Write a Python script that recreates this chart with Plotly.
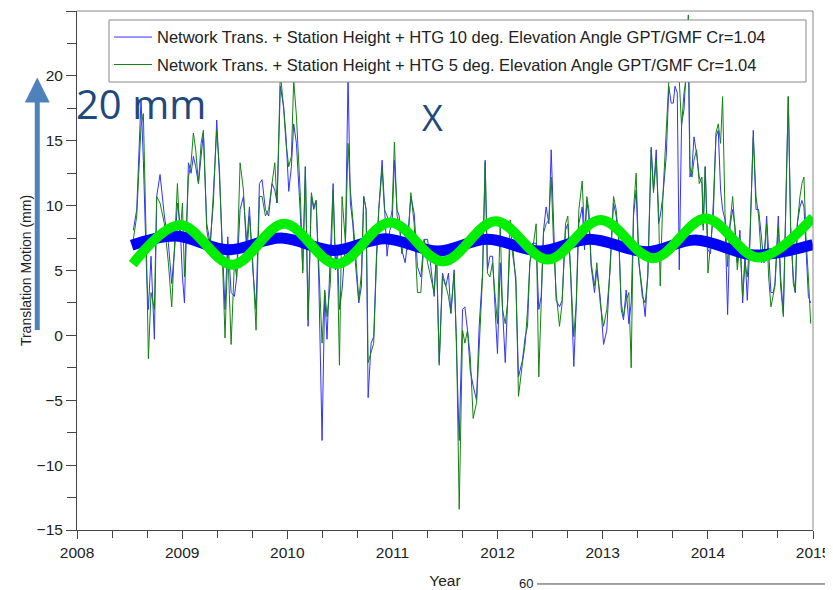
import plotly.graph_objects as go

# ---------------- data (decimal year, mm) ----------------
years = [
    2008.536, 2008.568, 2008.609, 2008.631, 2008.663, 2008.679, 2008.704, 2008.736, 2008.758, 2008.790,
    2008.831, 2008.869, 2008.901, 2008.933, 2008.955, 2008.980, 2009.003, 2009.022, 2009.060, 2009.085,
    2009.107, 2009.129, 2009.155, 2009.180, 2009.202, 2009.234, 2009.266, 2009.297, 2009.329, 2009.355,
    2009.383, 2009.408, 2009.434, 2009.466, 2009.497, 2009.519, 2009.551, 2009.583, 2009.615, 2009.640,
    2009.672, 2009.703, 2009.735,
    2009.760, 2009.792, 2009.823, 2009.855, 2009.881, 2009.903, 2009.934, 2009.966, 2009.988, 2010.014,
    2010.039, 2010.061, 2010.087, 2010.125, 2010.147, 2010.172, 2010.198, 2010.229, 2010.252, 2010.274,
    2010.299, 2010.331, 2010.356, 2010.378, 2010.410, 2010.436, 2010.458, 2010.477, 2010.496, 2010.521,
    2010.553, 2010.578, 2010.600, 2010.623, 2010.648, 2010.680, 2010.705, 2010.727, 2010.750, 2010.769,
    2010.797, 2010.822, 2010.848, 2010.870, 2010.902, 2010.924, 2010.949, 2010.975, 2010.997, 2011.019,
    2011.044,
    2011.064, 2011.089, 2011.121, 2011.143, 2011.175, 2011.207, 2011.238, 2011.270, 2011.302, 2011.334,
    2011.365, 2011.397, 2011.419, 2011.445, 2011.476, 2011.508, 2011.533, 2011.556, 2011.587, 2011.610,
    2011.635, 2011.667, 2011.689, 2011.714, 2011.740, 2011.768, 2011.800, 2011.825, 2011.857, 2011.882,
    2011.904, 2011.927, 2011.952, 2011.977, 2011.999, 2012.025, 2012.047, 2012.073, 2012.095, 2012.120,
    2012.142, 2012.174, 2012.199, 2012.237, 2012.263, 2012.285, 2012.307, 2012.333,
    2012.367, 2012.392, 2012.415, 2012.437, 2012.462, 2012.488, 2012.510, 2012.532, 2012.557, 2012.589,
    2012.614, 2012.646, 2012.668, 2012.694, 2012.725, 2012.748, 2012.773, 2012.805, 2012.827, 2012.849,
    2012.868, 2012.890, 2012.922, 2012.944, 2012.976, 2013.008, 2013.039, 2013.071, 2013.103, 2013.128,
    2013.154, 2013.176, 2013.198, 2013.223, 2013.249, 2013.271, 2013.293, 2013.318, 2013.344, 2013.376,
    2013.404, 2013.429, 2013.461, 2013.483, 2013.509, 2013.531, 2013.547, 2013.572, 2013.604, 2013.629,
    2013.651,
    2013.671, 2013.687, 2013.709, 2013.728, 2013.750, 2013.773, 2013.792, 2013.814, 2013.830, 2013.849,
    2013.868, 2013.893, 2013.918, 2013.944, 2013.956, 2013.975, 2014.001, 2014.026, 2014.052, 2014.077,
    2014.099, 2014.121, 2014.140, 2014.163, 2014.188, 2014.210, 2014.236, 2014.258, 2014.280, 2014.305,
    2014.331, 2014.353, 2014.375, 2014.400, 2014.432, 2014.458, 2014.483, 2014.511, 2014.534, 2014.559,
    2014.578, 2014.600, 2014.622, 2014.638, 2014.670, 2014.692, 2014.718, 2014.743, 2014.765, 2014.787,
    2014.813, 2014.832, 2014.851, 2014.876, 2014.895, 2014.914, 2014.933, 2014.956, 2014.978,
]

elev10_mm = [
    8.1, 9.7, 18.2, 13.5, 4.5, 2.0, 6.1, -0.3, 10.7, 12.4,
    9.2, 7.1, 4.0, 7.1, 10.2, 8.6, 4.5, 2.5, 13.3, 12.5,
    13.8, 13.0, 11.7, 13.8, 15.6, 8.6, 7.1, 10.2, 16.6, 12.2,
    6.1, 2.0, 7.6, 3.3, 3.0, 4.5, 9.7, 10.7, 7.1, 9.9,
    5.05, 2.0, 11.7,
    12.0, 9.7, 9.2, 11.7, 11.2, 10.2, 19.2, 17.6, 15.3, 11.1,
    13.0, 16.3, 14.8, 9.2, 5.05, 13.0, 0.7, 10.7, 9.7, 10.4,
    4.5, -8.1, 3.3, -0.3, 6.6, 11.7, 5.05, 6.6, 2.0, 3.5,
    7.1, 20.0, 10.2, 8.6, 5.6, 2.5, 3.8, 10.7, 9.7, -4.8,
    -0.6, -0.1, 6.1, 9.7, 13.5, 9.7, 6.1, 8.1, 8.6, 13.5,
    9.7,
    9.2, 6.6, 5.6, 7.1, 10.7, 9.4, 5.3, 4.5, 7.4, 7.4,
    5.3, 3.0, 6.6, -2.1, 4.8, 3.8, 4.8, 1.7, 5.05, -0.6,
    -8.1, 2.0, 2.2, 0.4, -2.7, -3.9, -5.0, 0.7, 4.8, 13.5,
    5.05, 6.1, 6.1, 2.0, -1.4, 5.6, 2.5, -2.1, 2.5, 7.4,
    7.1, 4.0, -3.2, -1.9, -0.1, 0.7, 5.6, 7.1,
    7.1, 2.0, 3.0, 8.1, 9.9, 8.6, 14.3, 8.1, 2.7, 2.2,
    2.7, 8.1, 8.6, 5.05, -2.4, 2.2, 8.6, 9.9, 6.6, 10.4,
    9.2, 5.3, 3.3, 5.05, 3.0, -0.7, 0.4, 5.6, 10.2, 9.2,
    7.4, 2.0, 1.2, 3.5, 0.9, 2.5, 9.2, 11.2, 5.6, 3.5,
    1.45, 4.8, 14.5, 11.2, 14.3, 8.6, 9.2, 10.7, 13.8, 19.2,
    17.9,
    17.9, 19.2, 18.7, 5.05, 16.3, 17.4, 20.2, 21.5, 12.2, 12.8,
    15.3, 14.0, 12.2, 11.7, 8.4, 13.0, 6.6, 6.3, 10.2, 15.3,
    15.8, 11.2, 9.7, 8.9, 1.6, 8.4, 9.7, 8.4, 5.6, 8.1,
    2.5, 6.3, 2.7, 7.1, 15.8, 9.7, 9.7, 7.1, 5.6, 9.2,
    6.1, 3.3, 3.3, 4.0, 9.2, 4.5, 1.7, 10.7, 18.4, 8.4,
    4.0, 3.3, 8.6, 9.9, 10.4, 9.9, 7.1, 3.0, 2.5,
]

elev5_mm = [
    7.4, 9.2, 16.1, 17.1, 5.6, -1.8, 3.3, 2.0, 10.7, 10.2,
    8.6, 5.6, 2.2, 8.6, 11.7, 7.6, 10.2, 4.5, 12.2, 13.3,
    15.6, 14.3, 11.7, 14.8, 15.8, 8.1, 6.6, 11.0, 15.8, 12.8,
    5.05, -0.2, 6.6, -0.7, 5.6, 4.5, 13.3, 11.2, 6.1, 9.2,
    5.6, 0.4, 10.7,
    10.7, 9.2, 9.7, 11.7, 13.3, 10.2, 20.3, 17.4, 14.8, 13.0,
    13.8, 19.7, 16.9, 10.7, 4.8, 13.0, 1.2, 11.0, 9.9, 10.4,
    6.1, -0.6, 3.5, 1.45, 4.0, 11.2, 5.6, 5.6, -2.3, 10.7,
    7.1, 14.8, 11.2, 9.2, 6.6, 2.7, 4.8, 10.7, 9.7, -2.1,
    -1.4, -0.6, 5.6, 9.7, 12.8, 9.7, 9.2, 8.6, 9.7, 14.9,
    9.2,
    8.6, 6.3, 7.6, 6.6, 11.0, 8.6, 3.3, 3.3, 7.4, 5.6,
    4.5, 3.3, 6.3, -2.3, 4.5, 3.8, 3.0, 1.7, 4.8, -0.6,
    -13.4, 0.4, -0.6, 0.4, -1.6, -6.4, -5.2, -0.6, 4.5, 13.3,
    4.8, 4.5, 5.6, 3.0, 0.9, 8.6, 2.0, 0.9, 2.5, 8.9,
    6.3, 4.5, -4.7, -2.1, -0.6, 2.0, 5.6, 6.6,
    8.6, -3.2, 2.5, 7.9, 8.6, 8.9, 12.2, 7.1, 3.3, 0.7,
    2.5, 8.6, 9.2, 5.05, -0.1, 2.5, 9.7, 11.9, 7.6, 10.7,
    9.7, 5.6, 3.8, 5.6, 2.5, 0.7, 2.0, 5.05, 10.7, 9.7,
    7.1, 2.5, 1.45, 2.7, 3.3, -2.5, 9.7, 12.5, 5.6, 3.0,
    2.5, 4.5, 14.3, 11.0, 13.5, 9.7, 3.8, 10.7, 15.3, 19.7,
    21.2,
    19.9, 21.2, 22.5, 19.7, 16.1, 18.7, 19.7, 24.7, 13.0, 12.2,
    13.5, 14.3, 11.7, 12.2, 8.1, 13.0, 4.8, 7.1, 9.2, 15.6,
    16.3, 14.8, 18.4, 9.4, 5.3, 8.6, 10.7, 8.1, 5.05, 7.1,
    3.0, 5.6, 4.5, 7.6, 15.3, 10.7, 9.2, 5.6, 6.1, 8.6,
    4.5, 2.2, 3.0, 3.8, 8.4, 3.8, 1.45, 10.2, 18.4, 8.4,
    4.5, 3.3, 8.6, 10.7, 11.7, 12.2, 7.6, 4.5, 0.9,
]

# annual fits (extrema)
fit10_years = [2008.52, 2008.94, 2009.44, 2009.94, 2010.44, 2010.93, 2011.43, 2011.90,
               2012.41, 2012.87, 2013.42, 2013.88, 2014.44, 2015.0]
fit10_mm = [6.95, 7.65, 6.6, 7.5, 6.55, 7.45, 6.5, 7.4, 6.5, 7.4, 6.45, 7.35, 6.2, 7.0]

fit5_years = [2008.53, 2008.98, 2009.48, 2009.97, 2010.47, 2010.98, 2011.48, 2011.98,
              2012.48, 2012.98, 2013.48, 2013.98, 2014.48, 2015.0]
fit5_mm = [5.5, 8.5, 5.45, 8.6, 5.5, 8.7, 5.7, 8.8, 5.85, 8.9, 5.95, 9.0, 6.0, 9.1]

name10 = "Network Trans. + Station Height + HTG 10 deg. Elevation Angle GPT/GMF Cr=1.04"
name5 = "Network Trans. + Station Height + HTG 5 deg. Elevation Angle GPT/GMF Cr=1.04"

x_ticks = [2008, 2009, 2010, 2011, 2012, 2013, 2014, 2015]
y_ticks = [-15, -10, -5, 0, 5, 10, 15, 20, 25]

FONT = "Liberation Sans, Arial, Helvetica, sans-serif"
AXC = "#444444"

fig = go.Figure()
fig.add_trace(go.Scatter(x=years, y=elev10_mm, mode="lines", name=name10,
                         line=dict(color="rgb(50,50,255)", width=1), legendgroup="a"))
fig.add_trace(go.Scatter(x=years, y=elev5_mm, mode="lines", name=name5,
                         line=dict(color="rgb(20,130,20)", width=1), legendgroup="b"))
fig.add_trace(go.Scatter(x=fit10_years, y=fit10_mm, mode="lines", showlegend=False,
                         line=dict(color="#0000ff", width=11, shape="spline", smoothing=1.0)))
fig.add_trace(go.Scatter(x=fit5_years, y=fit5_mm, mode="lines", showlegend=False,
                         line=dict(color="#00ee00", width=10, shape="spline", smoothing=1.0)))

# the page body has an 8px margin, so the figure is drawn 8px in from the top-left
fig.update_layout(
    width=825, height=582,
    margin=dict(l=69, r=20, t=3, b=60, autoexpand=False),
    paper_bgcolor="white", plot_bgcolor="white",
    font=dict(family=FONT, size=15, color="#222222"),
    showlegend=True,
    legend=dict(x=0.0435, y=0.983, xanchor="left", yanchor="top",
                bgcolor="rgba(0,0,0,0)", borderwidth=0,
                font=dict(size=16.5, color="#222222"), tracegroupgap=3,
                itemwidth=38),
    xaxis=dict(range=[2008, 2015], tickmode="array", tickvals=x_ticks,
               ticktext=[str(v) for v in x_ticks], automargin=True,
               ticks="outside", ticklen=8, tickcolor=AXC, tickwidth=1,
               showline=True, linecolor=AXC, linewidth=1, showgrid=False, zeroline=False,
               minor=dict(dtick=1/3, tick0=2008, ticks="outside", ticklen=7, tickcolor=AXC, showgrid=False),
               tickfont=dict(size=15.5),
               title=dict(text="Year", font=dict(size=15.5), standoff=15)),
    yaxis=dict(range=[-15, 25], tickmode="array", tickvals=y_ticks,
               ticktext=[("\u2212" + str(-v)) if v < 0 else str(v) for v in y_ticks],
               automargin=True,
               ticks="outside", ticklen=10, tickcolor=AXC, tickwidth=1,
               showline=True, linecolor=AXC, linewidth=1, showgrid=False, zeroline=False,
               minor=dict(dtick=2.5, tick0=0, ticks="outside", ticklen=9, tickcolor=AXC, showgrid=False),
               tickfont=dict(size=15.5),
               title=dict(text="Translation Motion (mm)", font=dict(size=14), standoff=1)),
)

# legend box (drawn above the traces, below the legend entries)
fig.add_shape(type="rect", xref="paper", yref="paper", x0=0.0435, x1=0.9905, y0=0.8632, y1=0.9827,
              layer="above", fillcolor="white", line=dict(color="#888888", width=1))

# top and right frame lines
fig.add_shape(type="line", xref="paper", yref="paper", x0=0, x1=1, y0=1, y1=1,
              line=dict(color="#888888", width=1))
fig.add_shape(type="line", xref="paper", yref="paper", x0=1, x1=1, y0=0, y1=1,
              line=dict(color="#888888", width=1))

# overlay: arrow, "20 mm", "X"
fig.add_annotation(xref="paper", yref="paper", x=-0.054, y=0.872, text="",
                   showarrow=True, ax=0, ay=254, arrowhead=2, arrowsize=1.0,
                   arrowwidth=5, arrowcolor="#4f81bd")
fig.add_annotation(xref="paper", yref="paper", x=-0.004, y=0.821, xanchor="left", yanchor="middle",
                   text="20 mm", showarrow=False,
                   font=dict(family="Open Sans, Lato, sans-serif", size=40, color="#1f497d"))
fig.add_annotation(xref="paper", yref="paper", x=0.483, y=0.794, xanchor="center", yanchor="middle",
                   text="X", showarrow=False,
                   font=dict(family="Open Sans, Lato, sans-serif", size=36, color="#1f497d"))

# fragment of the next chart at the bottom edge
fig.add_annotation(xref="paper", yref="paper", x=0.622, y=-0.104, xanchor="right", yanchor="middle",
                   text="60", showarrow=False, font=dict(size=13, color="#222222"))
fig.add_shape(type="line", xref="paper", yref="paper", x0=0.625, x1=1.03, y0=-0.104, y1=-0.104,
              line=dict(color="#444444", width=1))

fig.write_html("out.html")
